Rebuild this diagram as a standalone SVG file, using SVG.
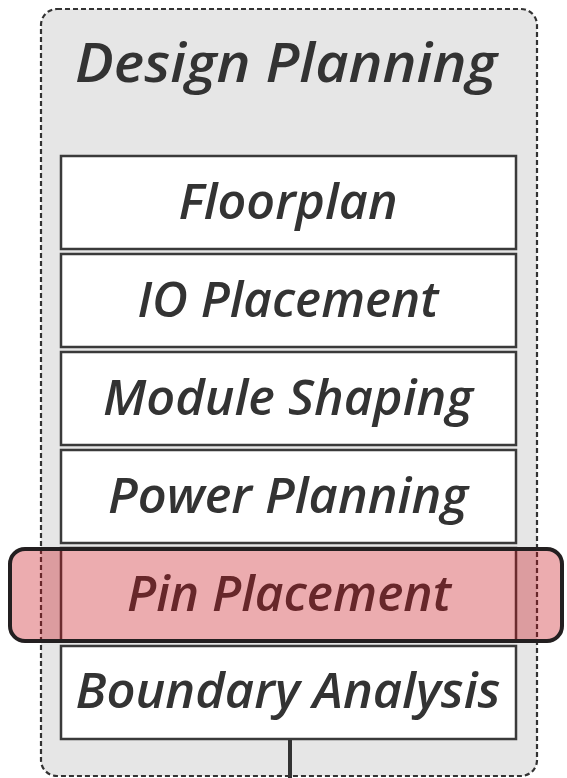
<svg xmlns="http://www.w3.org/2000/svg" width="567" height="778" viewBox="0 0 567 778">
  <style>
    .lbl { font-family: "Open Sans", "Liberation Sans", sans-serif; font-style: italic; font-weight: 600; fill: #333333; text-anchor: middle; }
    .step { fill: #ffffff; stroke: #3a3a3a; stroke-width: 2.5; }
  </style>
  <rect width="567" height="778" fill="#ffffff"/>

  <!-- container -->
  <g id="design-planning">
    <rect x="41" y="9" width="496" height="767" rx="16" fill="#e6e6e6" stroke="#333333" stroke-width="2.2" stroke-dasharray="5 3"/>
    <text class="lbl" x="286" y="82" font-size="55" textLength="422" lengthAdjust="spacingAndGlyphs">Design Planning</text>
  </g>

  <g id="floorplan">
    <rect class="step" x="61" y="156" width="455" height="93"/>
    <text class="lbl" x="288" y="219" font-size="48" textLength="219" lengthAdjust="spacingAndGlyphs">Floorplan</text>
  </g>
  <g id="io-placement">
    <rect class="step" x="61" y="254" width="455" height="93"/>
    <text class="lbl" x="288" y="317" font-size="48" textLength="301" lengthAdjust="spacingAndGlyphs">IO Placement</text>
  </g>
  <g id="module-shaping">
    <rect class="step" x="61" y="352" width="455" height="93"/>
    <text class="lbl" x="288" y="415" font-size="48" textLength="370" lengthAdjust="spacingAndGlyphs">Module Shaping</text>
  </g>
  <g id="power-planning">
    <rect class="step" x="61" y="450" width="455" height="93"/>
    <text class="lbl" x="288" y="513" font-size="48" textLength="360" lengthAdjust="spacingAndGlyphs">Power Planning</text>
  </g>
  <g id="pin-placement">
    <rect class="step" x="61" y="548" width="455" height="93"/>
    <text class="lbl" x="289" y="611" font-size="48" textLength="324" lengthAdjust="spacingAndGlyphs">Pin Placement</text>
  </g>
  <g id="boundary-analysis">
    <rect class="step" x="61" y="646" width="455" height="93"/>
    <text class="lbl" x="288" y="708" font-size="48" textLength="425" lengthAdjust="spacingAndGlyphs">Boundary Analysis</text>
  </g>

  <!-- highlight band over the current step -->
  <g id="highlight">
    <rect x="10" y="549" width="552" height="92" rx="15" fill="#c8101a" fill-opacity="0.35" stroke="#231f20" stroke-width="4"/>
  </g>

  <g id="connectors">
    <line x1="290" y1="740" x2="290" y2="778" stroke="#333333" stroke-width="4"/>
  </g>
</svg>
